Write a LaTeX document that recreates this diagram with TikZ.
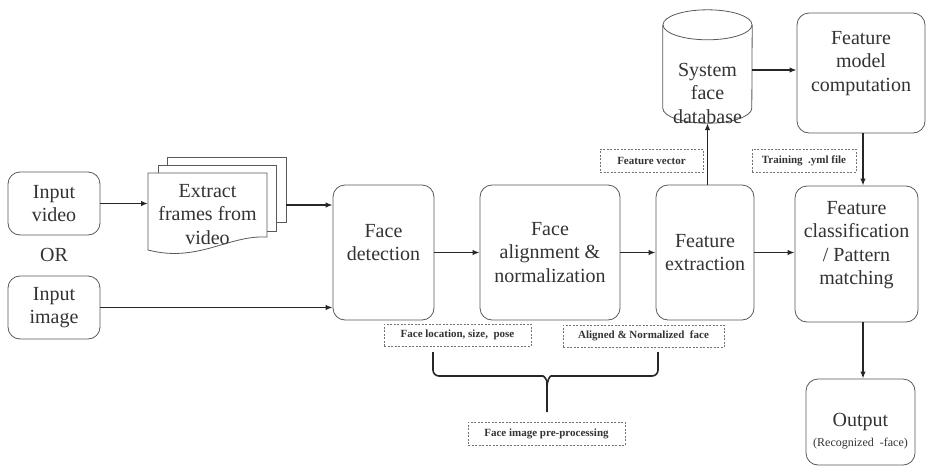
\documentclass[tikz,border=0pt]{standalone}
\usepackage{fontspec}
\setmainfont{Liberation Serif}
\usepackage{tikz}
\usetikzlibrary{arrows.meta, positioning, calc, shapes.geometric}
\newcommand{\boxfont}{\fontsize{20}{23.5}\selectfont}
\newcommand{\lift}[1]{\rule[-#1]{0pt}{0pt}}
\tikzset{
  block/.style={draw=black!65, rounded corners=12pt, line width=0.8pt, fill=white, align=center, font=\boxfont, text=black!80, inner sep=2pt},
  page/.style={draw=black!65, line width=0.8pt, fill=white},
  tag/.style={draw=black!55, dash pattern=on 2pt off 1.5pt, line width=0.7pt, font=\fontsize{11}{13}\selectfont\bfseries, text=black!80, inner sep=0pt},
  link/.style={-{Latex[length=7pt, width=5.5pt]}, line width=1.6pt, draw=black!85},
  brace/.style={line width=1.6pt, draw=black!85, rounded corners=6pt}
}
\newcommand{\docstack}[3]{%
  \begin{scope}[shift={(#1,#2)}]
    \draw[page] (19,-16) rectangle (138,49);
    \draw[page] (10,-8) rectangle (128,58);
    \draw[page] (0,0) -- (119,0) -- (119,64) .. controls (80,62) and (50,90) .. (0,77) -- cycle;
    \coordinate (#3-in) at (0,30);
    \coordinate (#3-out) at (138,32);
    \node[font=\boxfont, align=center, text=black!80] (#3) at (59.5,41.5) {Extract\\frames from\\video};
  \end{scope}
}

\begin{document}
\begin{tikzpicture}[x=1pt, y=-1pt]
        \useasboundingbox (0,0) rectangle (926,472);

        % Inputs
        \node[block, minimum width=92, minimum height=63] (vid) at (54,203.5) {Input\\video};
        \node[block, minimum width=92, minimum height=63] (img) at (54,307.5) {Input\\image};
        \node[font=\boxfont, text=black!80] (or) at (54,255) {OR};
        \docstack{148}{173}{extract}

        % Processing chain
        \node[block, minimum width=101, minimum height=135] (det)   at (383.5,252.5) {Face\\detection\lift{20pt}};
        \node[block, minimum width=140, minimum height=135] (align) at (550,252.5) {Face\\alignment \&\\normalization};
        \node[block, minimum width=98,  minimum height=135] (ext)   at (705,252.5) {Feature\\extraction};
        \node[block, minimum width=123, minimum height=136] (cls)   at (856.5,254) {Feature\\classification\\/ Pattern\\matching\lift{22pt}};
        \node[block, minimum width=109, minimum height=86]  (out)   at (860.5,422) {\rule{0pt}{32pt}Output\\[-4pt]{\fontsize{12}{14}\selectfont(Recognized\ \ -face)}};

        % Database (cylinder) and training
        \node[minimum width=89, minimum height=113, inner sep=0pt] (db) at (707.5,66.5) {};
        \draw[page] ($(db.north west)+(0,15)$) -- ($(db.south west)+(0,-15)$)
          arc[start angle=180, end angle=0, x radius=44.5, y radius=15] -- ($(db.north east)+(0,15)$);
        \draw[page] ($(db.north)+(0,15)$) ellipse[x radius=44.5, y radius=15];
        \node[font=\boxfont, align=center, text=black!80] (dbtext) at (707.5,93) {System\\face\\database};
        \node[block, minimum width=128, minimum height=120] (model) at (861,73) {Feature\\model\\computation\lift{24pt}};

        % Dashed tags
        \node[tag, minimum width=103, minimum height=23] (fvec)  at (651.5,160.5) {Feature vector};
        \node[tag, minimum width=104, minimum height=23] (train) at (804,160.5) {Training\ \ .yml file};
        \node[tag, minimum width=147, minimum height=22] (floc)  at (457.5,335) {Face location, size,\ \ pose};
        \node[tag, minimum width=161, minimum height=22] (anorm) at (643.5,336) {Aligned \& Normalized\ \ face};
        \node[tag, minimum width=157, minimum height=23] (prep)  at (546.5,433.5) {Face image pre-processing};

        % Links
        \draw[link] (vid.east) -- (vid.east -| extract-in);
        \draw[link] (extract-out) -- (extract-out -| det.west);
        \draw[link] (img) -- (img -| det.west);
        \draw[link] (det) -- (align);
        \draw[link] (align) -- (ext);
        \draw[link] (ext.east) -- (ext.east -| cls.west);
        \draw[link] (ext.north -| db.south) -- (db.south);
        \draw[link] (db.east |- 0,70) -- (model.west |- 0,70);
        \draw[link] (model.south -| 0:863) -- (cls.north -| 0:863);
        \draw[link] (cls.south -| 0:863) -- (out.north -| 0:863);

        % Brace
        \draw[brace] (433,352) -- (433,376) -- (537,376) .. controls (544,376) and (547,380) .. (547,388) -- (547,412);
        \draw[brace] (658,352) -- (658,376) -- (557,376) .. controls (550,376) and (547,380) .. (547,388);
    \end{tikzpicture}
\end{document}
